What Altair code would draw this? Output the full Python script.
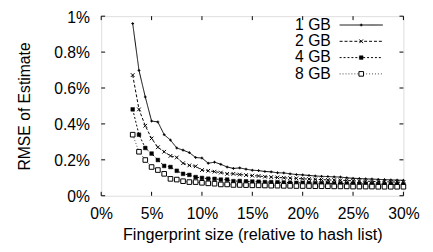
import altair as alt
import pandas as pd

# ---- data ----
series_names = ["1 GB", "2 GB", "4 GB", "8 GB"]

fingerprint_pct = [3.125, 3.75, 4.375, 5.0, 5.625, 6.25, 6.875, 7.5, 8.125, 8.75,
                   9.375, 10.0, 10.625, 11.25, 11.875, 12.5, 13.125, 13.75, 14.375, 15.0,
                   15.625, 16.25, 16.875, 17.5, 18.125, 18.75, 19.375, 20.0, 20.625, 21.25,
                   21.875, 22.5, 23.125, 23.75, 24.375, 25.0, 25.625, 26.25, 26.875, 27.5,
                   28.125, 28.75, 29.375, 30.0]

rmse_1gb = [0.959, 0.698, 0.550, 0.416, 0.411, 0.340, 0.310, 0.266, 0.254, 0.240,
            0.213, 0.210, 0.181, 0.187, 0.175, 0.160, 0.152, 0.155, 0.148, 0.142,
            0.140, 0.135, 0.133, 0.128, 0.127, 0.122, 0.118, 0.116, 0.113, 0.110,
            0.108, 0.107, 0.105, 0.104, 0.100, 0.097, 0.096, 0.094, 0.093, 0.091,
            0.090, 0.088, 0.087, 0.086]
rmse_2gb = [0.672, 0.481, 0.390, 0.319, 0.270, 0.245, 0.222, 0.213, 0.181, 0.169,
            0.164, 0.143, 0.139, 0.134, 0.129, 0.122, 0.122, 0.118, 0.115, 0.112,
            0.110, 0.106, 0.104, 0.102, 0.100, 0.098, 0.097, 0.094, 0.093, 0.091,
            0.090, 0.088, 0.087, 0.086, 0.085, 0.083, 0.082, 0.081, 0.080, 0.079,
            0.078, 0.077, 0.076, 0.075]
rmse_4gb = [0.481, 0.340, 0.266, 0.235, 0.199, 0.166, 0.160, 0.139, 0.122, 0.116,
            0.104, 0.099, 0.095, 0.094, 0.090, 0.090, 0.081, 0.082, 0.080, 0.079,
            0.078, 0.076, 0.076, 0.075, 0.074, 0.073, 0.072, 0.072, 0.071, 0.070,
            0.070, 0.069, 0.068, 0.068, 0.067, 0.067, 0.066, 0.066, 0.065, 0.065,
            0.064, 0.064, 0.063, 0.063]
rmse_8gb = [0.340, 0.245, 0.199, 0.160, 0.143, 0.122, 0.094, 0.090, 0.081, 0.076,
            0.076, 0.072, 0.069, 0.067, 0.063, 0.063, 0.060, 0.060, 0.059, 0.058,
            0.058, 0.057, 0.056, 0.056, 0.055, 0.055, 0.054, 0.054, 0.054, 0.053,
            0.053, 0.053, 0.052, 0.052, 0.052, 0.051, 0.051, 0.051, 0.051, 0.050,
            0.050, 0.050, 0.050, 0.050]

x_ticks = [0, 5, 10, 15, 20, 25, 30]
y_ticks = [0, 0.2, 0.4, 0.6, 0.8, 1]

# ---- styles ----
FONT = "Liberation Sans"
FS = 16
W, H = 308, 183
dashes = [[1, 0], [3, 2], [2, 2], [1, 2]]
line_colors = ["#000000", "#000000", "#000000", "#444444"]

rows = []
for name, vals in zip(series_names, [rmse_1gb, rmse_2gb, rmse_4gb, rmse_8gb]):
    for x, v in zip(fingerprint_pct, vals):
        rows.append({"series": name, "x": x, "y": v})
df = pd.DataFrame(rows)

xscale = alt.Scale(domain=[0, 30], nice=False, zero=False)
yscale = alt.Scale(domain=[0, 1], nice=False)

xaxis = alt.Axis(values=x_ticks, labelExpr="datum.value + '%'", grid=False, domain=False,
                 ticks=False, tickSize=0, labelFlush=False, labelPadding=10,
                 labelFont=FONT, labelFontSize=FS, labelColor="#000",
                 title="Fingerprint size (relative to hash list)", titleFont=FONT,
                 titleFontSize=16.5, titleFontWeight="normal", titleColor="#000",
                 titleX=W / 2, titleY=40, titleBaseline="middle", titleAlign="center")
yaxis = alt.Axis(values=y_ticks, labelExpr="datum.value + '%'", grid=False, domain=False,
                 ticks=False, tickSize=0, labelFlush=False, labelPadding=12, labelOffset=1,
                 labelFont=FONT, labelFontSize=FS, labelColor="#000",
                 title="RMSE of Estimate", titleFont=FONT, titleFontSize=FS,
                 titleFontWeight="normal", titleColor="#000",
                 titleX=-78, titleY=H / 2, titleAngle=270, titleBaseline="middle",
                 titleAlign="center")

base = alt.Chart(df)

lines = base.mark_line(strokeWidth=1, clip=True).encode(
    x=alt.X("x:Q", scale=xscale, axis=xaxis),
    y=alt.Y("y:Q", scale=yscale, axis=yaxis),
    color=alt.Color("series:N", scale=alt.Scale(domain=series_names, range=line_colors), legend=None),
    strokeDash=alt.StrokeDash("series:N", scale=alt.Scale(domain=series_names, range=dashes), legend=None),
)

shape_1 = "M-1,0L1,0M0,-1L0,1"
shape_x = "M-1,-1L1,1M-1,1L1,-1"
marker_specs = [
    ("1 GB", dict(shape=shape_1, size=8, filled=False, stroke="#000", strokeWidth=1)),
    ("2 GB", dict(shape=shape_x, size=14, filled=False, stroke="#000", strokeWidth=1)),
    ("4 GB", dict(shape="square", size=14, filled=True, fill="#000", stroke="#000", strokeWidth=0.5)),
    ("8 GB", dict(shape="square", size=22, filled=True, fill="#ffffff", stroke="#000", strokeWidth=1)),
]

layers = [lines]
for name, spec in marker_specs:
    layers.append(
        base.transform_filter(alt.datum.series == name).mark_point(opacity=1, **spec).encode(
            x=alt.X("x:Q", scale=xscale, axis=xaxis),
            y=alt.Y("y:Q", scale=yscale, axis=yaxis),
        )
    )

# inward ticks on all four sides
xt = pd.DataFrame({"t": x_ticks})
yt = pd.DataFrame({"t": y_ticks})
TL = 4
layers.append(alt.Chart(xt).mark_rule(color="#000", strokeWidth=1).encode(
    x=alt.X("t:Q", scale=xscale, axis=xaxis), y=alt.value(H), y2=alt.value(H - TL)))
layers.append(alt.Chart(xt).mark_rule(color="#000", strokeWidth=1).encode(
    x=alt.X("t:Q", scale=xscale, axis=xaxis), y=alt.value(0), y2=alt.value(TL)))
layers.append(alt.Chart(yt).mark_rule(color="#000", strokeWidth=1).encode(
    y=alt.Y("t:Q", scale=yscale, axis=yaxis), x=alt.value(0), x2=alt.value(TL)))
layers.append(alt.Chart(yt).mark_rule(color="#000", strokeWidth=1).encode(
    y=alt.Y("t:Q", scale=yscale, axis=yaxis), x=alt.value(W), x2=alt.value(W - TL)))

# legend (top right, labels left of samples)
leg_y0, leg_dy = 9, 16.6
for i, (name, spec) in enumerate(marker_specs):
    ly = leg_y0 + i * leg_dy
    one = pd.DataFrame({"label": [name]})
    layers.append(alt.Chart(one).mark_text(align="right", baseline="middle", font=FONT,
                                           fontSize=FS, color="#000").encode(
        text="label:N", x=alt.value(234), y=alt.value(ly)))
    layers.append(alt.Chart(one).mark_rule(strokeWidth=1, color=line_colors[i],
                                           strokeDash=dashes[i]).encode(
        x=alt.value(243), x2=alt.value(287), y=alt.value(ly)))
    layers.append(alt.Chart(one).mark_point(opacity=1, **spec).encode(
        x=alt.value(265), y=alt.value(ly)))

chart = alt.layer(*layers).properties(
    width=W, height=H,
    padding={"left": 95, "top": 6, "right": 22, "bottom": 55},
    autosize=alt.AutoSizeParams(type="none"),
).configure_view(stroke="#000", strokeWidth=1).configure(background="white")

chart.save("out.html", embed_options={"renderer": "svg", "actions": False})
